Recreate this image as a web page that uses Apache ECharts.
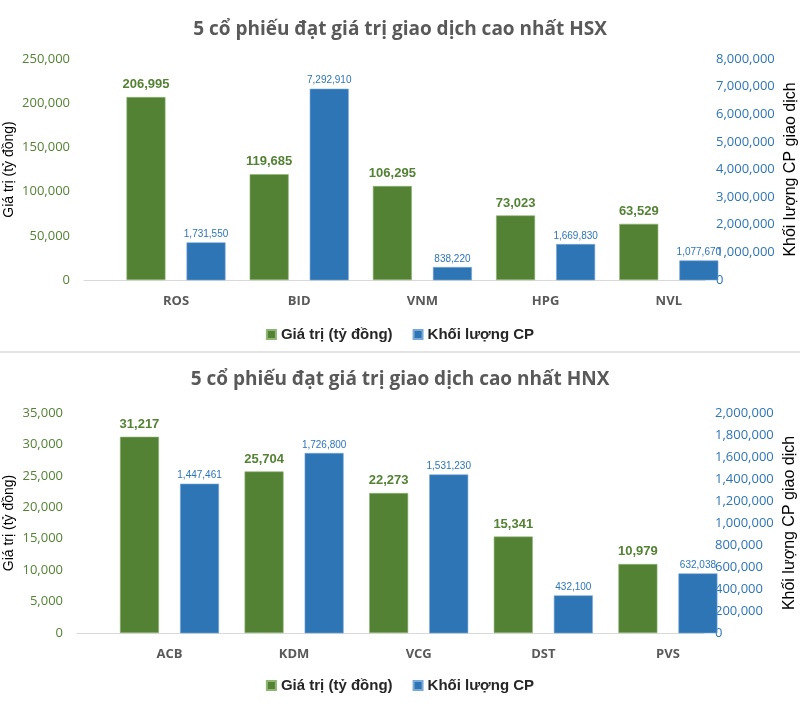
<!DOCTYPE html>
<html>
<head>
<meta charset="utf-8">
<script src="https://cdn.jsdelivr.net/npm/echarts@6/dist/echarts.min.js"></script>
<style>
html,body{margin:0;padding:0;background:#fff;}
#chart{width:800px;height:724px;}
</style>
</head>
<body>
<div id="chart"></div>
<script>
// ---- Data ----
const titleHSX = '5 cổ phiếu đạt giá trị giao dịch cao nhất HSX';
const titleHNX = '5 cổ phiếu đạt giá trị giao dịch cao nhất HNX';
const seriesValueName = 'Giá trị (tỷ đồng)';
const seriesVolumeName = 'Khối lượng CP';
const leftAxisName = 'Giá trị (tỷ đồng)';
const rightAxisName = 'Khối lượng CP giao dịch';

const categoriesHSX = ['ROS', 'BID', 'VNM', 'HPG', 'NVL'];
const valueHSX = [206995, 119685, 106295, 73023, 63529];
const volumeHSX = [1731550, 7292910, 838220, 1669830, 1077670];

const categoriesHNX = ['ACB', 'KDM', 'VCG', 'DST', 'PVS'];
const valueHNX = [31217, 25704, 22273, 15341, 10979];
const volumeHNX = [1447461, 1726800, 1531230, 432100, 632038];

// axis scales (ticks)
const leftTicksHSX = {min: 0, max: 250000, interval: 50000};
const rightTicksHSX = {min: 0, max: 8000000, interval: 1000000};
const leftTicksHNX = {min: 0, max: 35000, interval: 5000};
const rightTicksHNX = {min: 0, max: 2000000, interval: 200000};
// in the reference the volume bars start from a non-zero base of their scale
const volumeBaseHSX = 369000;
const volumeBaseHNX = 90000;

// ---- Styles ----
const GREEN = '#548235';
const BLUE = '#2E75B6';
const NARROW = "'Liberation Sans Narrow', 'Arial Narrow', 'Liberation Sans', Arial, sans-serif";
const fmt = v => Number(v).toLocaleString('en-US');

function chartParts(idx, title, titleTop, cats, vals, vols, leftT, rightT, volBase, axisGrid, barGrid, legendTop) {
  const g0 = idx * 2, g1 = idx * 2 + 1;
  return {
    title: {text: title, left: 'center', top: titleTop,
      textStyle: {fontFamily: 'Open Sans', fontWeight: 'bold', fontSize: 19, color: '#595959'}},
    grids: [Object.assign({outerBoundsMode: 'none', containLabel: false}, axisGrid),
            Object.assign({outerBoundsMode: 'none', containLabel: false}, barGrid)],
    xAxes: [
      {type: 'category', gridIndex: g0, data: [''], axisLine: {lineStyle: {color: '#d9d9d9', width: 1}},
        axisTick: {show: false}, axisLabel: {show: false}},
      {type: 'category', gridIndex: g1, data: cats, axisLine: {show: false}, axisTick: {show: false},
        axisLabel: {margin: 15, fontFamily: 'Open Sans', fontWeight: 'bold', fontSize: 13, color: '#595959'}}
    ],
    yAxes: [
      {type: 'value', gridIndex: g0, position: 'left', min: leftT.min, max: leftT.max, interval: leftT.interval,
        name: leftAxisName, nameLocation: 'middle', nameRotate: 90, nameGap: axisGrid.left - 16, nameMoveOverlap: false,
        nameTextStyle: {fontFamily: 'Liberation Sans', fontSize: 14, color: '#000'},
        axisLine: {show: false}, axisTick: {show: false}, splitLine: {show: false},
        axisLabel: {margin: 14, formatter: fmt, fontFamily: 'Open Sans', fontSize: 13, color: GREEN}},
      {type: 'value', gridIndex: g0, position: 'right', min: rightT.min, max: rightT.max, interval: rightT.interval,
        name: rightAxisName, nameLocation: 'middle', nameRotate: 90, nameGap: 78, nameMoveOverlap: false,
        nameTextStyle: {fontFamily: 'Liberation Sans', fontSize: 16, color: '#000'},
        axisLine: {show: false}, axisTick: {show: false}, splitLine: {show: false},
        axisLabel: {margin: 11, formatter: fmt, fontFamily: 'Open Sans', fontSize: 13, color: BLUE}},
      {type: 'value', gridIndex: g1, show: false, min: leftT.min, max: leftT.max, splitLine: {show: false}},
      {type: 'value', gridIndex: g1, show: false, min: volBase, max: volBase + rightT.max, splitLine: {show: false}}
    ],
    series: [
      {name: seriesValueName, type: 'bar', xAxisIndex: g1, yAxisIndex: idx * 4 + 2, data: vals,
        barWidth: 39, barGap: '54%', clip: true,
        itemStyle: {color: GREEN, borderColor: '#8fb573', borderWidth: 0.6},
        label: {show: true, position: 'top', distance: 6, formatter: p => fmt(p.value),
          fontFamily: NARROW, fontWeight: 'bold', fontSize: 13, color: GREEN}},
      {name: seriesVolumeName, type: 'bar', xAxisIndex: g1, yAxisIndex: idx * 4 + 3, data: vols,
        barWidth: 39, barGap: '54%', clip: true,
        itemStyle: {color: BLUE, borderColor: '#7aa9d6', borderWidth: 0.6},
        label: {show: true, position: 'top', distance: 3, formatter: p => fmt(p.value),
          fontFamily: NARROW, fontSize: 10, color: BLUE}}
    ],
    legend: {top: legendTop, left: 'center', icon: 'rect', itemWidth: 9, itemHeight: 9, itemGap: 20,
      data: [seriesValueName, seriesVolumeName],
      textStyle: {fontFamily: 'Liberation Sans', fontWeight: 'bold', fontSize: 15, color: '#262626'}}
  };
}

const partsHSX = chartParts(0, titleHSX, 15, categoriesHSX, valueHSX, volumeHSX, leftTicksHSX, rightTicksHSX, volumeBaseHSX,
  {left: 84, top: 59, width: 621, height: 221},
  {left: 114.4, top: 59, width: 616, height: 221}, 322);
const partsHNX = chartParts(1, titleHNX, 365, categoriesHNX, valueHNX, volumeHNX, leftTicksHNX, rightTicksHNX, volumeBaseHNX,
  {left: 77, top: 413, width: 627, height: 220},
  {left: 107.2, top: 413, width: 623, height: 220}, 673);

const option = {
  backgroundColor: '#fff',
  animation: false,
  title: [partsHSX.title, partsHNX.title],
  grid: [...partsHSX.grids, ...partsHNX.grids],
  xAxis: [...partsHSX.xAxes, ...partsHNX.xAxes],
  yAxis: [...partsHSX.yAxes, ...partsHNX.yAxes],
  series: [...partsHSX.series, ...partsHNX.series],
  legend: [partsHSX.legend, partsHNX.legend],
  graphic: [{type: 'rect', shape: {x: 0, y: 351, width: 800, height: 2}, style: {fill: '#e3e3e3'}}]
};

const chart = echarts.init(document.getElementById('chart'), null, {renderer: 'canvas'});
chart.setOption(option);
</script>
</body>
</html>
